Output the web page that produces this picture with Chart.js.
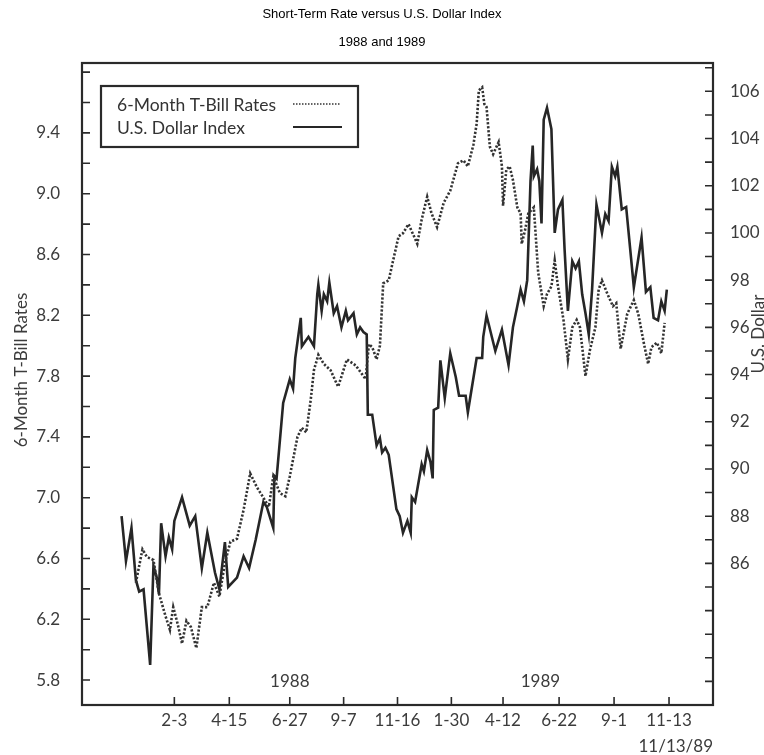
<!DOCTYPE html>
<html><head><meta charset="utf-8">
<script src="https://cdn.jsdelivr.net/npm/chart.js@4.4.1/dist/chart.umd.min.js"></script>
<style>html,body{margin:0;padding:0;background:#fff;}#wrap{width:764px;height:755px;}</style>
</head><body><div id="wrap"><canvas id="c" width="764" height="755"></canvas></div>
<script>
// ---- data (x = trading days after Feb 3, 1988) ----
const usdDays = [
 -48,-44,-39,-35,-32,-28,-22,-19,-16,-14,
 -12,-8,-5,-2,0,7,14,19,25,30,
 37,41,46,49,57,63,68,74,81,84,
 90,91,93,99,105,108,110,115,116,122,
 127,130,131,134,136,139,141,145,148,152,
 156,158,163,166,169,172,175,176,180,184,
 187,189,192,195,202,205,208,212,215,216,
 219,225,227,230,233,235,236,240,242,246,
 251,256,259,265,267,275,280,281,284,292,
 298,304,308,312,315,318,321,324,326,327,
 330,332,334,336,339,343,346,349,353,355,
 358,362,365,368,371,374,377,380,384,389,
 392,395,398,401,403,407,411,418,425,429,
 433,436,440,443,446,448];
const usdValues = [
 88.0,86.1,87.5,85.3,84.8,84.9,81.7,85.9,85.4,84.7,
 87.7,86.3,87.1,86.6,87.8,88.8,87.6,88.0,85.8,87.3,
 85.6,84.9,86.9,85.0,85.4,86.3,85.8,87.0,88.6,88.4,
 87.5,89.7,89.6,92.8,93.8,93.4,94.7,96.4,95.2,95.6,
 95.2,97.4,97.8,96.7,97.4,97.1,97.9,96.6,96.9,96.0,
 96.7,96.3,96.6,95.7,96.0,95.8,95.7,92.3,92.3,91.0,
 91.3,90.7,90.9,90.6,88.3,88.0,87.3,87.8,87.3,88.8,
 88.6,90.2,89.9,90.8,90.3,89.6,92.5,92.6,94.6,93.0,
 94.9,93.9,93.1,93.1,92.4,94.7,94.7,95.6,96.5,95.0,
 95.9,94.4,96.0,96.9,97.6,97.1,98.0,102.2,103.7,102.4,
 102.7,102.2,100.4,104.8,105.3,104.4,100.0,101.0,101.4,99.3,
 96.7,98.8,98.5,98.8,97.4,96.6,95.7,97.6,101.2,100.0,
 100.8,100.5,102.8,102.4,102.8,101.0,101.1,97.7,99.8,97.5,
 97.7,96.4,96.3,97.1,96.7,97.6];
const rateDays = [
 -35,-29,-25,-19,-14,-8,-4,-1,3,7,
 11,15,20,25,30,36,41,46,51,57,
 63,69,75,81,86,90,96,101,105,112,
 116,120,124,127,131,136,142,149,157,165,
 174,177,180,184,187,190,195,199,204,208,
 213,218,221,225,230,234,239,245,251,258,
 263,267,272,275,277,280,282,284,287,290,
 295,298,299,302,305,308,312,315,316,319,
 322,327,331,336,339,343,346,349,354,358,
 362,366,369,374,378,383,386,389,394,399,
 402,406,412,418,422,427,431,434,439,443,
 446];
const rateValues = [
 6.44,6.66,6.61,6.59,6.37,6.22,6.13,6.28,6.17,6.04,
 6.19,6.15,6.01,6.28,6.28,6.44,6.35,6.57,6.71,6.73,
 6.92,7.16,7.07,7.00,6.94,7.14,7.03,7.01,7.14,7.40,
 7.46,7.43,7.64,7.84,7.94,7.88,7.84,7.73,7.91,7.87,
 7.78,8.01,7.99,7.91,8.00,8.41,8.43,8.56,8.72,8.74,
 8.80,8.72,8.67,8.83,8.98,8.87,8.78,8.94,9.02,9.20,
 9.22,9.18,9.32,9.46,9.68,9.70,9.59,9.57,9.31,9.26,
 9.34,9.18,8.92,9.16,9.18,9.09,8.91,8.87,8.67,8.76,
 8.87,8.91,8.48,8.26,8.34,8.39,8.56,8.39,8.17,7.91,
 8.12,8.17,8.12,7.80,7.97,8.12,8.37,8.43,8.34,8.26,
 8.28,7.98,8.21,8.30,8.21,8.02,7.88,7.99,8.02,7.95,
 8.15];
const xTickDays = [0,50,105,154,203,252,299,350,400,450];
const xTickLabels = ['2-3','4-15','6-27','9-7','11-16','1-30','4-12','6-22','9-1','11-13'];
const yearLabels = ['1988','1989'];
const yearDays = [105,333];
const leftTickValues = [5.8,6.0,6.2,6.4,6.6,6.8,7.0,7.2,7.4,7.6,7.8,8.0,8.2,8.4,8.6,8.8,9.0,9.2,9.4,9.6,9.8];
const leftLabelValues = [5.8,6.2,6.6,7.0,7.4,7.8,8.2,8.6,9.0,9.4];
const rightTickValues = [80,81,82,83,84,85,86,87,88,89,90,91,92,93,94,95,96,97,98,99,100,101,102,103,104,105,106,107];
const rightLabelValues = [86,88,90,92,94,96,98,100,102,104,106];
const titleLines = ['Short-Term Rate versus U.S. Dollar Index','1988 and 1989'];
const rateName = '6-Month T-Bill Rates';
const usdName = 'U.S. Dollar Index';
const leftAxisTitle = '6-Month T-Bill Rates';
const rightAxisTitle = 'U.S. Dollar';
const endDateNote = '11/13/89';

const FONT = 'Lato, "Open Sans", sans-serif';
const INK = '#2a2a2a';
const TXT = '#3c3c3c';

const decor = {
  id: 'decor',
  afterDatasetsDraw(chart) {
    const {ctx, chartArea: a, scales} = chart;
    ctx.save();
    // frame
    ctx.strokeStyle = INK; ctx.lineWidth = 2.2;
    ctx.strokeRect(a.left, a.top, a.right - a.left, a.bottom - a.top);
    // inward tick marks
    ctx.lineWidth = 1.6;
    ctx.beginPath();
    leftTickValues.forEach(v => { const y = scales.y.getPixelForValue(v); ctx.moveTo(a.left, y); ctx.lineTo(a.left + 8, y); });
    rightTickValues.forEach(v => { const y = scales.y2.getPixelForValue(v); if (y > a.top + 2 && y < a.bottom - 2) { ctx.moveTo(a.right, y); ctx.lineTo(a.right - 8, y); } });
    xTickDays.forEach(d => { const x = scales.x.getPixelForValue(d); ctx.moveTo(x, a.bottom); ctx.lineTo(x, a.bottom - 8); });
    ctx.stroke();
    // year labels
    ctx.fillStyle = TXT; ctx.font = '17px ' + FONT; ctx.textAlign = 'center'; ctx.textBaseline = 'middle';
    yearLabels.forEach((t, i) => ctx.fillText(t, scales.x.getPixelForValue(yearDays[i]), a.bottom - 23));
    // end date note
    ctx.textAlign = 'right';
    ctx.fillText(endDateNote, a.right, 747);
    // axis titles
    ctx.textAlign = 'center';
    ctx.save(); ctx.translate(22, 370); ctx.rotate(-Math.PI / 2); ctx.fillText(leftAxisTitle, 0, 0); ctx.restore();
    ctx.save(); ctx.translate(759, 334); ctx.rotate(-Math.PI / 2); ctx.fillText(rightAxisTitle, 0, 0); ctx.restore();
    // legend box
    const lx = a.left + 19, ly = a.top + 23, lw = 257, lh = 61;
    ctx.lineWidth = 2.2; ctx.strokeStyle = INK;
    ctx.strokeRect(lx, ly, lw, lh);
    ctx.textAlign = 'left'; ctx.fillStyle = '#333'; ctx.font = '17.5px ' + FONT;
    ctx.fillText(rateName, lx + 16, ly + 19);
    ctx.fillText(usdName, lx + 16, ly + 42);
    const ds = chart.data.datasets;
    ctx.setLineDash([1.5, 1.5]); ctx.lineWidth = 1.6; ctx.strokeStyle = ds[0].borderColor;
    ctx.beginPath(); ctx.moveTo(lx + 192, ly + 18); ctx.lineTo(lx + 240, ly + 18); ctx.stroke();
    ctx.setLineDash([]); ctx.lineWidth = 2; ctx.strokeStyle = ds[1].borderColor;
    ctx.beginPath(); ctx.moveTo(lx + 192, ly + 41); ctx.lineTo(lx + 241, ly + 41); ctx.stroke();
    ctx.restore();
  }
};

new Chart(document.getElementById('c'), {
  type: 'line',
  data: {
    datasets: [
      { label: rateName, data: rateDays.map((d, i) => ({x: d, y: rateValues[i]})), yAxisID: 'y',
        borderColor: '#333', borderWidth: 2.6, borderDash: [2.2, 1.8], pointRadius: 0, tension: 0, fill: false },
      { label: usdName, data: usdDays.map((d, i) => ({x: d, y: usdValues[i]})), yAxisID: 'y2',
        borderColor: '#262626', borderWidth: 2.6, pointRadius: 0, tension: 0, fill: false, borderJoinStyle: 'miter' }
    ]
  },
  options: {
    responsive: false, animation: false, devicePixelRatio: 1,
    layout: { padding: 0 },
    plugins: {
      legend: { display: false },
      tooltip: { enabled: false },
      title: { display: true, text: titleLines, color: '#000',
        font: { family: '"Liberation Sans", Arial, sans-serif', size: 13, weight: 'normal', lineHeight: '28px' },
        padding: { top: 0, bottom: 7 } }
    },
    scales: {
      x: { type: 'linear', min: -84, max: 490,
        grid: { display: false }, border: { display: false },
        afterBuildTicks: s => { s.ticks = xTickDays.map(v => ({value: v})); },
        afterFit: s => { s.height = 50; },
        ticks: { autoSkip: false, maxRotation: 0, padding: -3, color: TXT, font: { family: FONT, size: 17 },
          callback: (v, i) => xTickLabels[i] }
      },
      y: { type: 'linear', position: 'left', min: 5.636, max: 9.86,
        grid: { display: false }, border: { display: false },
        afterBuildTicks: s => { s.ticks = leftTickValues.map(v => ({value: v})); },
        afterFit: s => { s.width = 82; },
        ticks: { autoSkip: false, padding: 14, color: TXT, font: { family: FONT, size: 17 },
          callback: v => leftLabelValues.some(l => Math.abs(l - v) < 1e-6) ? v.toFixed(1) : '' }
      },
      y2: { type: 'linear', position: 'right', min: 80, max: 107.2,
        grid: { display: false }, border: { display: false },
        afterBuildTicks: s => { s.ticks = rightTickValues.map(v => ({value: v})); },
        afterFit: s => { s.width = 51; },
        ticks: { autoSkip: false, padding: 9, color: TXT, font: { family: FONT, size: 17 },
          callback: v => rightLabelValues.includes(v) ? String(v) : '' }
      }
    }
  },
  plugins: [decor]
});
</script></body></html>
